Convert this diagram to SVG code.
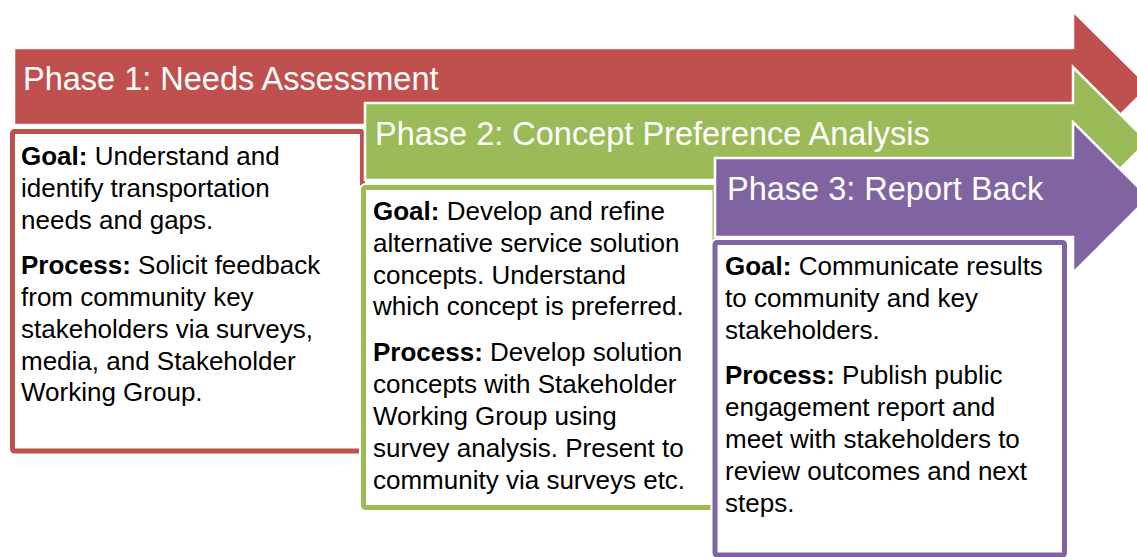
<svg xmlns="http://www.w3.org/2000/svg" width="1137" height="557" viewBox="0 0 1137 557">
<style>
.arrow{stroke:#fff;stroke-width:2.5;stroke-linejoin:miter}
.halo{fill:#fff;stroke:#fff;stroke-width:9}
.box{fill:#fff;stroke-width:5}
.title{font-family:"Liberation Sans",Arial,sans-serif;font-size:32.5px;fill:#fff}
.body{font-family:"Liberation Sans",Arial,sans-serif;font-size:26px;fill:#000}
.b{font-weight:bold}
</style>
<rect width="1137" height="557" fill="#fff"/>
<g id="phase1">
<polygon class="arrow" fill="#C0504D" points="14,48 1073,48 1073,11 1149,86.5 1073,162 1073,125 14,125"/>
<text class="title" x="23" y="90">Phase 1: Needs Assessment</text>
<rect class="halo" x="12.5" y="131.5" width="350" height="319.5" rx="2"/>
<rect class="box" stroke="#C0504D" x="12.5" y="131.5" width="350" height="319.5" rx="2"/>
<text class="body" x="21"><tspan x="21" y="165"><tspan class="b">Goal:</tspan> Understand and</tspan><tspan x="21" y="197">identify transportation</tspan><tspan x="21" y="229">needs and gaps.</tspan><tspan x="21" y="274"><tspan class="b">Process:</tspan> Solicit feedback</tspan><tspan x="21" y="306">from community key</tspan><tspan x="21" y="338">stakeholders via surveys,</tspan><tspan x="21" y="370">media, and Stakeholder</tspan><tspan x="21" y="401">Working Group.</tspan></text>
</g>
<g id="phase2">
<polygon class="arrow" fill="#9BBB59" points="365,103 1073,103 1073,67 1147.5,141.5 1073,216 1073,180 365,180"/>
<text class="title" x="375" y="145">Phase 2: Concept Preference Analysis</text>
<rect class="halo" x="363.5" y="187.5" width="351.5" height="320" rx="2"/>
<rect class="box" stroke="#9BBB59" x="363.5" y="187.5" width="351.5" height="320" rx="2"/>
<text class="body"><tspan x="373" y="220"><tspan class="b">Goal:</tspan> Develop and refine</tspan><tspan x="373" y="252">alternative service solution</tspan><tspan x="373" y="284">concepts. Understand</tspan><tspan x="373" y="315">which concept is preferred.</tspan><tspan x="373" y="361"><tspan class="b">Process:</tspan> Develop solution</tspan><tspan x="373" y="393">concepts with Stakeholder</tspan><tspan x="373" y="425">Working Group using</tspan><tspan x="373" y="457">survey analysis. Present to</tspan><tspan x="373" y="489">community via surveys etc.</tspan></text>
</g>
<g id="phase3">
<polygon class="arrow" fill="#8064A2" points="715,158 1073,158 1073,122 1148.5,197.5 1073,273 1073,237 715,237"/>
<text class="title" x="727" y="200">Phase 3: Report Back</text>
<rect class="halo" x="715" y="242.5" width="349.5" height="312.5" rx="2"/>
<rect class="box" stroke="#8064A2" x="715" y="242.5" width="349.5" height="312.5" rx="2"/>
<text class="body"><tspan x="725" y="275"><tspan class="b">Goal:</tspan> Communicate results</tspan><tspan x="725" y="307">to community and key</tspan><tspan x="725" y="339">stakeholders.</tspan><tspan x="725" y="384"><tspan class="b">Process:</tspan> Publish public</tspan><tspan x="725" y="416">engagement report and</tspan><tspan x="725" y="448">meet with stakeholders to</tspan><tspan x="725" y="480">review outcomes and next</tspan><tspan x="725" y="512">steps.</tspan></text>
</g>
<g id="connectors"/>
</svg>
